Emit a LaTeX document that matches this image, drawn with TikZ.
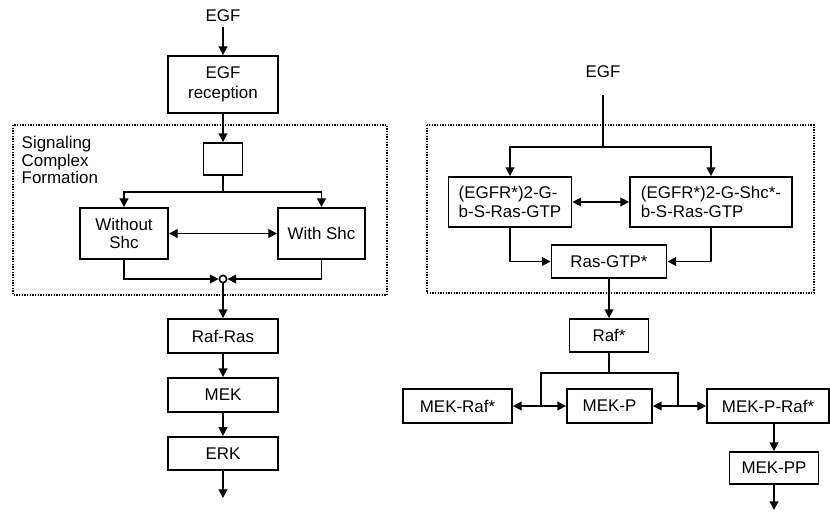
\documentclass[tikz,border=0pt]{standalone}
\usepackage{fontspec}
\setmainfont{Liberation Sans}
\usetikzlibrary{arrows.meta}
\tikzset{
  box/.style={draw, line width=1.4pt, inner sep=0pt, align=center},
  frame/.style={draw, line width=1pt, dash pattern=on 1pt off 1pt},
  link/.style={line width=1.3pt},
  arr/.style={link, -{Triangle[length=6.5pt,width=6.5pt]}},
  darr/.style={link, {Triangle[length=6.5pt,width=6.5pt]}-{Triangle[length=6.5pt,width=6.5pt]}},
}
\begin{document}
\begin{tikzpicture}[x=0.75pt,y=-0.75pt,font=\fontsize{12.7}{14.5}\selectfont]
	\useasboundingbox (0,0) rectangle (830,511);
	% left pathway
		\draw[frame] (13,125) rectangle (387,295);
		\node[align=left, anchor=north west, font=\fontsize{12.7}{12.8}\selectfont] (sclabel) at (17,132) {Signaling\\Complex\\Formation};
		\node (egfL) at (223,16) {EGF};
		\node[box, minimum width=82.5pt, minimum height=42.75pt] (recep) at (223,84.5) {EGF\\reception};
		\node[box, minimum width=29.25pt, minimum height=24pt] (split) at (223,159) {};
		\node[box, minimum width=66pt, minimum height=38.25pt, font=\fontsize{12.7}{13.3}\selectfont] (wo) at (124,233.5) {Without\\Shc};
		\node[box, minimum width=65.25pt, minimum height=38.25pt] (wi) at (321.5,233.5) {With Shc};
		\node[circle, draw, line width=1.2pt, fill=white, inner sep=0pt, minimum size=5.5pt] (join) at (223,279) {};
		\node[box, minimum width=82.5pt, minimum height=25.5pt] (rafras) at (223,336) {Raf-Ras};
		\node[box, minimum width=82.5pt, minimum height=25.5pt] (mek) at (223,395) {MEK};
		\node[box, minimum width=82.5pt, minimum height=25pt] (erk) at (223,453.5) {ERK};
		\coordinate (forkL) at (223,192);
		\coordinate (endL) at (223,498);
	% left connectors
		\draw[arr] (egfL) -- (recep);
		\draw[arr] (recep) -- (split);
		\draw[link] (split) -- (forkL);
		\draw[arr] (forkL) -| (wo);
		\draw[arr] (forkL) -| (wi);
		\draw[darr] (wo) -- (wi);
		\draw[arr] (wo) |- (join);
		\draw[arr] (wi) |- (join);
		\draw[arr] (join) -- (rafras);
		\draw[arr] (rafras) -- (mek);
		\draw[arr] (mek) -- (erk);
		\draw[arr] (erk) -- (endL);
	% right pathway
		\draw[frame] (427,125) rectangle (814,293);
		\node (egfR) at (603,72) {EGF};
		\node[box, minimum width=92.25pt, minimum height=37.5pt, align=left] (cL) at (510,202) {(EGFR*)2-G-\\b-S-Ras-GTP};
		\node[box, minimum width=121.5pt, minimum height=37.5pt, align=left] (cR) at (711,202) {(EGFR*)2-G-Shc*-\\b-S-Ras-GTP};
		\node[box, minimum width=86.25pt, minimum height=24.75pt] (rasgtp) at (609,261.5) {Ras-GTP*};
		\node[box, minimum width=59.25pt, minimum height=24.75pt] (raf) at (609,335.5) {Raf*};
		\node[box, minimum width=81.75pt, minimum height=25.5pt] (mekraf) at (457.5,406) {MEK-Raf*};
		\node[box, minimum width=63.75pt, minimum height=25.5pt] (mekp) at (609.5,406) {MEK-P};
		\node[box, minimum width=91.5pt, minimum height=25.5pt] (mekpraf) at (768,406) {MEK-P-Raf*};
		\node[box, minimum width=66.75pt, minimum height=24pt] (mekpp) at (774,468) {MEK-PP};
		\path (603,95) coordinate (egfRend)
			(603,147) coordinate (forkR)
			(609,373) coordinate (forkM)
			(541,406) coordinate (jl)
			(678,406) coordinate (jr)
			(774,510) coordinate (endR);
	% right connectors
		\draw[link] (egfRend) -- (forkR);
		\draw[arr] (forkR) -| (cL);
		\draw[arr] (forkR) -| (cR);
		\draw[darr] (cL) -- (cR);
		\draw[arr] (cL) |- (rasgtp);
		\draw[arr] (cR) |- (rasgtp);
		\draw[arr] (rasgtp) -- (raf);
		\draw[link] (raf) -- (forkM);
		\draw[link] (forkM) -| (jl);
		\draw[link] (forkM) -| (jr);
		\foreach \j/\a/\b in {jl/mekraf/mekp, jr/mekp/mekpraf}{
			\draw[arr] (\j) -- (\a);
			\draw[arr] (\j) -- (\b);
			}
		\draw[arr] (mekpp |- mekpraf.south) -- (mekpp);
		\draw[arr] (mekpp) -- (endR);
\end{tikzpicture}
\end{document}
